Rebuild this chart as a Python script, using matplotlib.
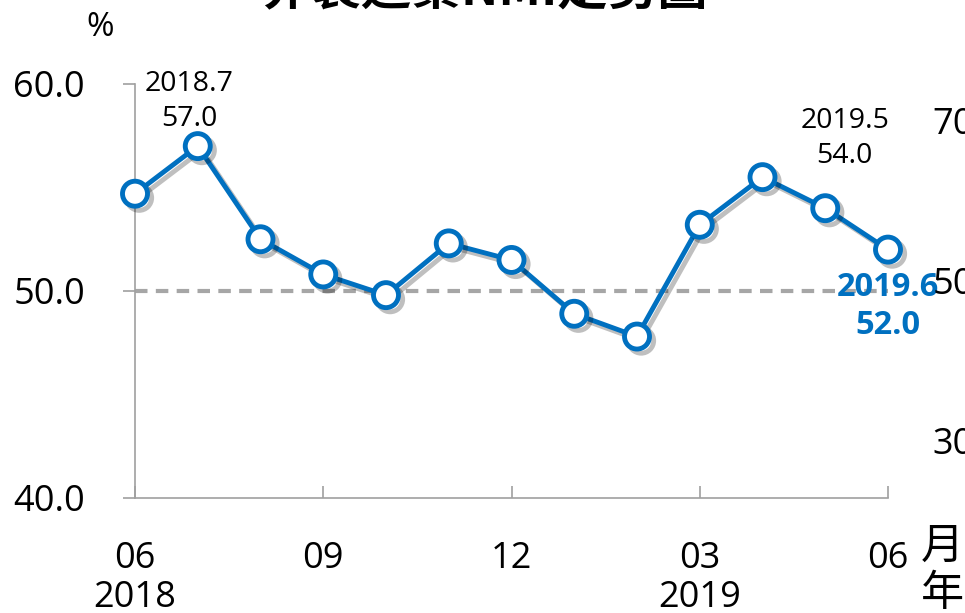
import matplotlib.pyplot as plt
import matplotlib.patheffects as pe

plt.rcParams['font.family'] = ['Open Sans', 'Noto Sans CJK TC', 'DejaVu Sans']

months = ["06", "07", "08", "09", "10", "11", "12", "01", "02", "03", "04", "05", "06"]
nmi = [54.7, 57.0, 52.5, 50.8, 49.8, 52.3, 51.5, 48.9, 47.8, 53.2, 55.5, 54.0, 52.0]
tick_idx = [0, 3, 6, 9, 12]
tick_labels = ["06\n2018", "09\n ", "12\n ", "03\n2019", "06\n "]
y_ticks = [40, 50, 60]
right_ticks = [30, 50, 70]
note_idx = [1, 11]
note_text = ["2018.7\n57.0", "2019.5\n54.0"]
last_note = "2019.6\n52.0"

# label offsets (points) from their data point
note_offsets = [(-6, 32), (14, 50)]

blue = "#0070C0"
grey = "#A0A0A0"

fig = plt.figure(figsize=(9.65, 6.13), dpi=100)
ax = fig.add_axes([135 / 965, 1 - 498 / 613, (888 - 135) / 965, (498 - 84) / 613])

x = list(range(len(nmi)))
ax.axhline(50, color="#A6A6A6", lw=3, ls=(0, (3, 2)), zorder=1)
ax.plot(x, nmi, color=blue, lw=3.5, marker="o", ms=18, mfc="white", mec=blue, mew=3.5,
        clip_on=False, zorder=3,
        path_effects=[pe.SimpleLineShadow(offset=(3, -3), alpha=0.25), pe.Normal()])

ax.set_xlim(0, 12)
ax.set_ylim(40, 60)
ax.set_yticks(y_ticks)
ax.set_yticklabels([f"{v:.1f}" for v in y_ticks])
ax.set_xticks(tick_idx)
ax.set_xticklabels(tick_labels, linespacing=1.1)

for s in ["top", "right"]:
    ax.spines[s].set_visible(False)
for s in ["left", "bottom"]:
    ax.spines[s].set_color(grey)
    ax.spines[s].set_linewidth(1.2)
ax.tick_params(axis="y", direction="out", length=9, color=grey, width=1.2, labelsize=26, pad=27)
ax.tick_params(axis="x", direction="in", length=9, color=grey, width=1.2, labelsize=26, pad=31)

for i, txt, off in zip(note_idx, note_text, note_offsets):
    ax.annotate(txt, (i, nmi[i]), xytext=off, textcoords="offset points",
                ha="center", va="center", fontsize=20.5, linespacing=1.35)
ax.annotate(last_note, (12, nmi[-1]), xytext=(0, -41), textcoords="offset points",
            ha="center", va="center", fontsize=23.5, fontweight="bold", color=blue,
            linespacing=1.2, annotation_clip=False)

# secondary axis, mostly cut off at the right edge
ax2 = ax.twinx()
ax2.set_ylim(22.75, 74.5)
ax2.set_yticks(right_ticks)
ax2.tick_params(axis="y", length=0, labelsize=26, pad=32)
for s in ax2.spines.values():
    s.set_visible(False)

fig.text(100 / 965, 1 - 28 / 613, "%", fontsize=24, ha="center", va="center")
fig.text(942 / 965, 1 - 547 / 613, "月", fontsize=31, ha="center", va="center",
         family=["Noto Sans CJK TC"])
fig.text(942 / 965, 1 - 594 / 613, "年", fontsize=31, ha="center", va="center",
         family=["Noto Sans CJK TC"])
fig.text(485 / 965, 1 - 5 / 613, "非製造業NMI走勢圖", fontsize=36, fontweight="bold",
         ha="center", va="baseline", family=["Noto Sans CJK TC"])

fig.savefig("out.png", dpi=100)
